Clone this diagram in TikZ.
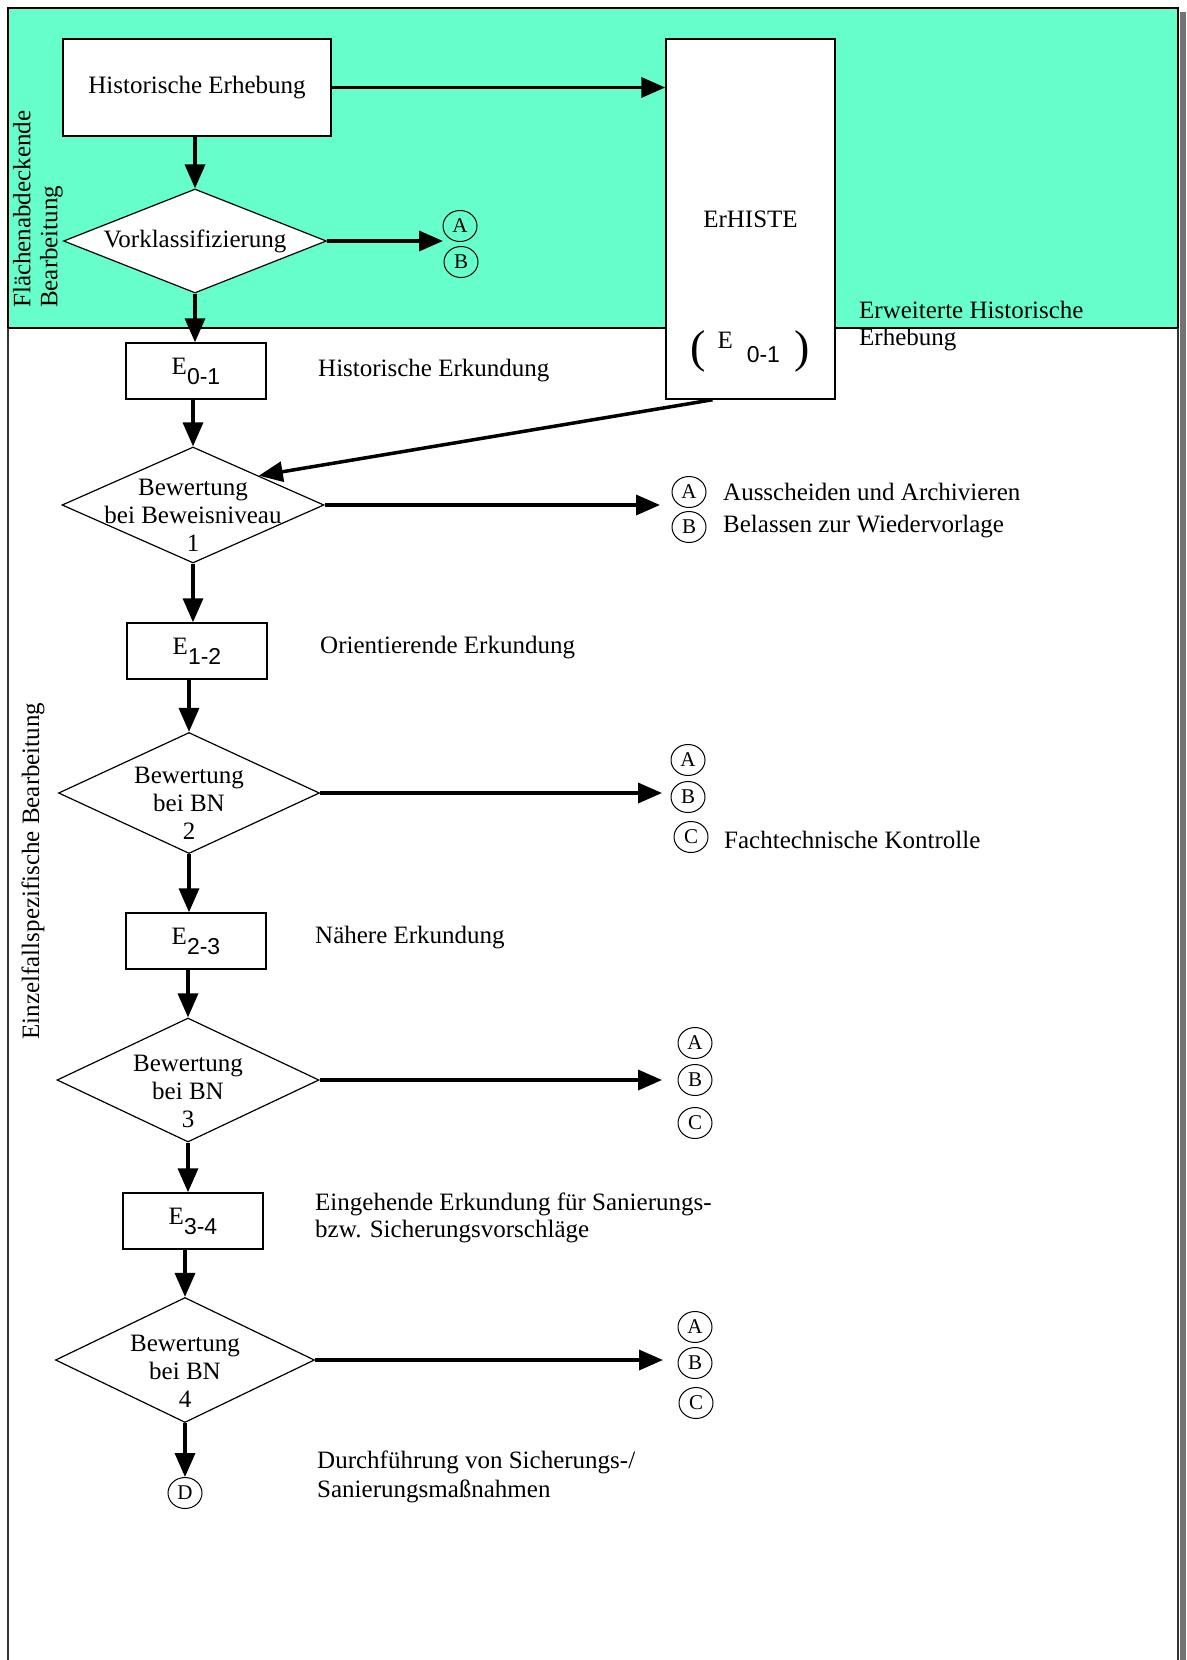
\documentclass[tikz,border=0pt]{standalone}
\usepackage{fontspec}
\setmainfont{Liberation Serif}
\setsansfont{Liberation Sans}
\usetikzlibrary{shapes.geometric,arrows.meta}
\definecolor{flaeche}{HTML}{66FFCC}
\newcommand{\erk}[1]{E\raisebox{-10bp}{\sffamily\fontsize{23bp}{23bp}\selectfont #1}}

\begin{document}
\begin{tikzpicture}[x=1bp, y=-1bp, font=\fontsize{25bp}{28bp}\selectfont,
  kasten/.style={draw, line width=1.5bp, fill=white, minimum width=140bp, minimum height=56bp, inner sep=0pt},
  raute/.style={diamond, draw, line width=1.2bp, fill=white, inner sep=0pt},
  kreis/.style={ellipse, draw, line width=1bp, inner sep=0pt, minimum width=34bp, minimum height=31bp, font=\fontsize{21bp}{21bp}\selectfont},
  txt/.style={anchor=west, align=left, inner sep=0pt},
  pfeil/.style={line width=3.5bp, -{Triangle[length=24bp,width=20bp]}}]
  \useasboundingbox (0,0) rectangle (1186,1660);
  \fill[flaeche] (8,8) rectangle (1178,328);
  \fill[black!55] (1180,12) rectangle (1186,1660);
  \draw[line width=2.5bp] (8,328) -- (8,8) -- (1178,8) -- (1178,328);
  \draw[line width=1.5bp] (8,328) -- (1178,328);
  \draw[line width=2bp, black!80] (8,328) -- (8,1660) (1178,328) -- (1178,1660);

  \node[rotate=90, anchor=south west, align=left, inner sep=0pt, font=\fontsize{25bp}{27bp}\selectfont] (flab) at (63,308) {Flächenabdeckende\\Bearbeitung};
  \node[rotate=90] (einz) at (33,871) {Einzelfallspezifische Bearbeitung};

  \node[kasten, minimum width=268bp, minimum height=97bp] (he) at (197,87.5) {Historische Erhebung};
  \node[kasten, minimum width=169bp, minimum height=360bp] (erh) at (750.5,219) {ErHISTE};
  \node[anchor=base west, inner sep=0pt] (erhe) at (690,362) {{\fontsize{46bp}{46bp}\selectfont(}\hspace{12bp}\raisebox{14bp}{E}\hspace{14bp}{\sffamily\fontsize{23bp}{23bp}\selectfont 0-1}\hspace{14bp}{\fontsize{46bp}{46bp}\selectfont)}};
  \node[txt, font=\fontsize{25bp}{27bp}\selectfont] (erht) at (859,326) {Erweiterte Historische\\Erhebung};

  \node[raute, minimum width=263bp, minimum height=104bp] (dv) at (195,241) {};
  \node (dvt) at (dv) {Vorklassifizierung};
  \coordinate (dvend) at (443,241);
  \node[kreis] (dva) at (460,226) {A};
  \node[kreis] (dvb) at (461,262) {B};

  \node[kasten] (e01) at (196,371) {\erk{0-1}};
  \node[txt] (e01t) at (318,371) {Historische Erkundung};
  \node[raute, minimum width=262bp, minimum height=116bp] (d1) at (193,505) {};
  \node[align=center] (d1t) at ([yshift=-10bp]d1.center) {Bewertung\\bei Beweisniveau\\1};
  \coordinate (d1end) at (660,505);
  \node[kreis] (d1a) at (689,492) {A};
  \node[kreis] (d1b) at (689,527) {B};
  \node[txt] (d1at) at (723,492) {Ausscheiden und Archivieren};
  \node[txt] (d1bt) at (723,527) {Belassen zur Wiedervorlage};

  \node[kasten] (e12) at (197,651) {\erk{1-2}};
  \node[txt] (e12t) at (320,648) {Orientierende Erkundung};
  \node[raute, minimum width=261bp, minimum height=121bp] (d2) at (189,793) {};
  \node[align=center] (d2t) at ([yshift=-10bp]d2.center) {Bewertung\\bei BN\\2};
  \coordinate (d2end) at (662,793);
  \node[kreis] (d2a) at (688,760) {A};
  \node[kreis] (d2b) at (688,797) {B};
  \node[kreis] (d2c) at (691,837) {C};
  \node[txt] (d2ct) at (724,840) {Fachtechnische Kontrolle};

  \node[kasten] (e23) at (196,941) {\erk{2-3}};
  \node[txt] (e23t) at (315,938) {Nähere Erkundung};
  \node[raute, minimum width=262bp, minimum height=124bp] (d3) at (188,1080) {};
  \node[align=center] (d3t) at ([yshift=-11bp]d3.center) {Bewertung\\bei BN\\3};
  \coordinate (d3end) at (662,1080);
  \node[kreis] (d3a) at (695,1043) {A};
  \node[kreis] (d3b) at (695,1080) {B};
  \node[kreis] (d3c) at (695,1123) {C};

  \node[kasten] (e34) at (193,1221) {\erk{3-4}};
  \node[txt, font=\fontsize{25bp}{27bp}\selectfont] (e34t) at (315,1218) {Eingehende Erkundung für Sanierungs-\\bzw. Sicherungsvorschläge};
  \node[raute, minimum width=259bp, minimum height=125bp] (d4) at (185,1360) {};
  \node[align=center] (d4t) at ([yshift=-11bp]d4.center) {Bewertung\\bei BN\\4};
  \coordinate (d4end) at (663,1360);
  \node[kreis] (d4a) at (695,1327) {A};
  \node[kreis] (d4b) at (695,1363) {B};
  \node[kreis] (d4c) at (696,1403) {C};

  \node[kreis] (dd) at (185,1493) {D};
  \node[txt, font=\fontsize{25bp}{29bp}\selectfont] (ddt) at (317,1477) {Durchführung von Sicherungs-/\\Sanierungsmaßnahmen};

  \draw[pfeil] (he.east) -- (he.east -| erh.west);
  \draw[pfeil] (he.south -| dv.north) -- (dv.north);
  \draw[pfeil] (dv.east) -- (dvend);
  \draw[pfeil] (dv.south) -- (dv.south |- e01.north);
  \draw[pfeil] (e01.south -| d1.north) -- (d1.north);
  \draw[pfeil] ([xshift=-38bp]erh.south) -- (d1.north east);
  \draw[pfeil] (d1.east) -- (d1end);
  \draw[pfeil] (d1.south) -- (d1.south |- e12.north);
  \draw[pfeil] (e12.south -| d2.north) -- (d2.north);
  \draw[pfeil] (d2.east) -- (d2end);
  \draw[pfeil] (d2.south) -- (d2.south |- e23.north);
  \draw[pfeil] (e23.south -| d3.north) -- (d3.north);
  \draw[pfeil] (d3.east) -- (d3end);
  \draw[pfeil] (d3.south) -- (d3.south |- e34.north);
  \draw[pfeil] (e34.south -| d4.north) -- (d4.north);
  \draw[pfeil] (d4.east) -- (d4end);
  \draw[pfeil] (d4.south) -- (dd.north);
\end{tikzpicture}
\end{document}
